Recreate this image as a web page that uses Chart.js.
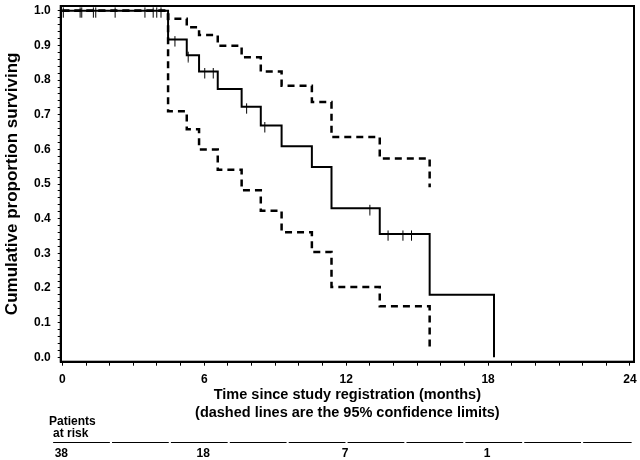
<!DOCTYPE html>
<html><head><meta charset="utf-8">
<script src="https://cdn.jsdelivr.net/npm/chart.js@4.4.1/dist/chart.umd.min.js"></script>
<style>html,body{margin:0;padding:0;background:#fff}#wrap{width:640px;height:460px}</style>
</head><body><div id="wrap"><canvas id="c" width="640" height="460"></canvas></div>
<script>
// ---- data ----
const kmTimes    = [0, 4.47, 5.26, 5.78, 6.57, 7.58, 8.39, 9.27, 10.55, 11.38, 13.42, 15.53, 18.25];
const kmSurvival = [1.0, 0.917, 0.872, 0.825, 0.774, 0.723, 0.669, 0.609, 0.549, 0.430, 0.356, 0.180, 0.0];
const ciTimes    = [0, 4.47, 5.26, 5.78, 6.57, 7.58, 8.39, 9.27, 10.55, 11.38, 13.42, 15.53];
const ciUpper    = [1.0, 0.977, 0.953, 0.930, 0.899, 0.866, 0.825, 0.784, 0.737, 0.636, 0.574, 0.491];
const ciLower    = [1.0, 0.710, 0.658, 0.600, 0.541, 0.482, 0.423, 0.361, 0.304, 0.203, 0.147, 0.020];
const censorTimes    = [0.04, 0.75, 0.82, 1.31, 1.41, 2.23, 3.49, 3.84, 3.99, 4.17, 4.76, 5.32, 6.02, 6.38, 7.79, 8.56, 13.0, 13.77, 14.4, 14.76];
const censorSurvival = [1, 1, 1, 1, 1, 1, 1, 1, 1, 1, 0.917, 0.872, 0.825, 0.825, 0.723, 0.669, 0.430, 0.356, 0.356, 0.356];
const xTickLabels = [0, 6, 12, 18, 24];
const yTickLabels = [0.0, 0.1, 0.2, 0.3, 0.4, 0.5, 0.6, 0.7, 0.8, 0.9, 1.0];
const riskTimes  = [0, 6, 12, 18];
const riskCounts = [38, 18, 7, 1];
const xTitle = ['Time since study registration (months)', '(dashed lines are the 95% confidence limits)'];
const yTitle = 'Cumulative proportion surviving';
const riskLabel = ['Patients', 'at risk'];

const FONT = "'Liberation Sans', Arial, sans-serif";
const toXY = (xs, ys) => xs.map((x, i) => ({x: x, y: ys[i]}));

// censor tick glyph (extends a little above, more below the curve)
const mark = document.createElement('canvas');
mark.width = 3; mark.height = 15;
(function(){ const g = mark.getContext('2d'); g.strokeStyle = '#000'; g.lineWidth = 1;
  g.beginPath(); g.moveTo(1.5, 4); g.lineTo(1.5, 14.5); g.stroke(); })();

const framePlugin = {
  id: 'frame',
  afterDraw(chart) {
    const {ctx, chartArea: a, scales} = chart;
    ctx.save();
    ctx.strokeStyle = '#000'; ctx.lineWidth = 2;
    ctx.strokeRect(a.left, a.top, a.right - a.left, a.bottom - a.top);
    // at-risk table
    const xs = scales.x;
    ctx.fillStyle = '#000';
    ctx.font = 'bold 12px ' + FONT;
    ctx.textBaseline = 'middle'; ctx.textAlign = 'left';
    ctx.fillText(riskLabel[0], 49, 422);
    ctx.fillText(riskLabel[1], 53, 433.5);
    ctx.lineWidth = 1;
    ctx.beginPath();
    for (let i = 0; i < 10; i++) {
      const s = -0.39 + i * 2.49, e = Math.min(s + 2.4, 24.07);
      const y = 442.5;
      ctx.moveTo(xs.getPixelForValue(s), y); ctx.lineTo(xs.getPixelForValue(e), y);
    }
    ctx.stroke();
    ctx.textAlign = 'center';
    riskTimes.forEach((t, i) => ctx.fillText(String(riskCounts[i]), xs.getPixelForValue(t) - 1, 454));
    ctx.restore();
  }
};

new Chart(document.getElementById('c'), {
  type: 'scatter',
  data: {
    datasets: [
      { label: 'Upper', type: 'line', data: toXY(ciTimes, ciUpper), stepped: 'before',
        borderColor: '#000', borderWidth: 2.5, borderDash: [7, 5], pointRadius: 0, fill: false, order: 3 },
      { label: 'Lower', type: 'line', data: toXY(ciTimes, ciLower), stepped: 'before',
        borderColor: '#000', borderWidth: 2.5, borderDash: [7, 5], pointRadius: 0, fill: false, order: 3 },
      { label: 'KM', type: 'line', data: toXY(kmTimes, kmSurvival), stepped: 'before',
        borderColor: '#000', borderWidth: 2, pointRadius: 0, fill: false, order: 2 },
      { label: 'Censored', data: toXY(censorTimes, censorSurvival), pointStyle: mark,
        pointRadius: 5, showLine: false, order: 1 }
    ]
  },
  options: {
    responsive: false, animation: false,
    layout: { padding: { top: 2, right: 5.7, left: 0, bottom: 0 } },
    plugins: { legend: { display: false }, tooltip: { enabled: false } },
    scales: {
      x: {
        type: 'linear', min: -0.07, max: 24.17,
        afterBuildTicks(s) { const t = []; for (let v = xTickLabels[0]; v <= xTickLabels[xTickLabels.length-1]; v++) t.push({value: v}); s.ticks = t; },
        afterFit(s) { s.height = 98.3; s.paddingLeft = 0; s.paddingRight = 0; },
        ticks: { autoSkip: false, maxRotation: 0, padding: 7, color: '#000',
          font: { family: FONT, size: 12, weight: 'bold' },
          callback: v => xTickLabels.includes(v) ? String(v) : '' },
        grid: { drawOnChartArea: false, drawTicks: true, tickLength: 4, tickColor: '#000', tickWidth: 1 },
        border: { display: true, color: '#000', width: 2 },
        title: { display: true, text: xTitle, color: '#000',
          font: { family: FONT, size: 14.5, weight: 'bold', lineHeight: '18px' },
          padding: { top: 0, bottom: 38 } }
      },
      y: {
        type: 'linear', min: -0.013, max: 1.014,
        afterBuildTicks(s) { const t = []; for (let i = 0; i <= 50; i++) t.push({value: i / 50}); s.ticks = t; },
        afterFit(s) { s.width = 60.7; s.paddingTop = 0; s.paddingBottom = 0; },
        ticks: { autoSkip: false, padding: 7, color: '#000',
          font: { family: FONT, size: 12, weight: 'bold' },
          callback: v => { const m = yTickLabels.find(l => Math.abs(l - v) < 1e-6); return m === undefined ? '' : m.toFixed(1); } },
        grid: { drawOnChartArea: false, drawTicks: true, tickLength: 3, tickColor: '#000', tickWidth: 1 },
        border: { display: true, color: '#000', width: 2 },
        title: { display: true, text: yTitle, color: '#000',
          font: { family: FONT, size: 17, weight: 'bold' },
          padding: { top: 2, bottom: 0 } }
      }
    }
  },
  plugins: [framePlugin]
});
</script></body></html>
